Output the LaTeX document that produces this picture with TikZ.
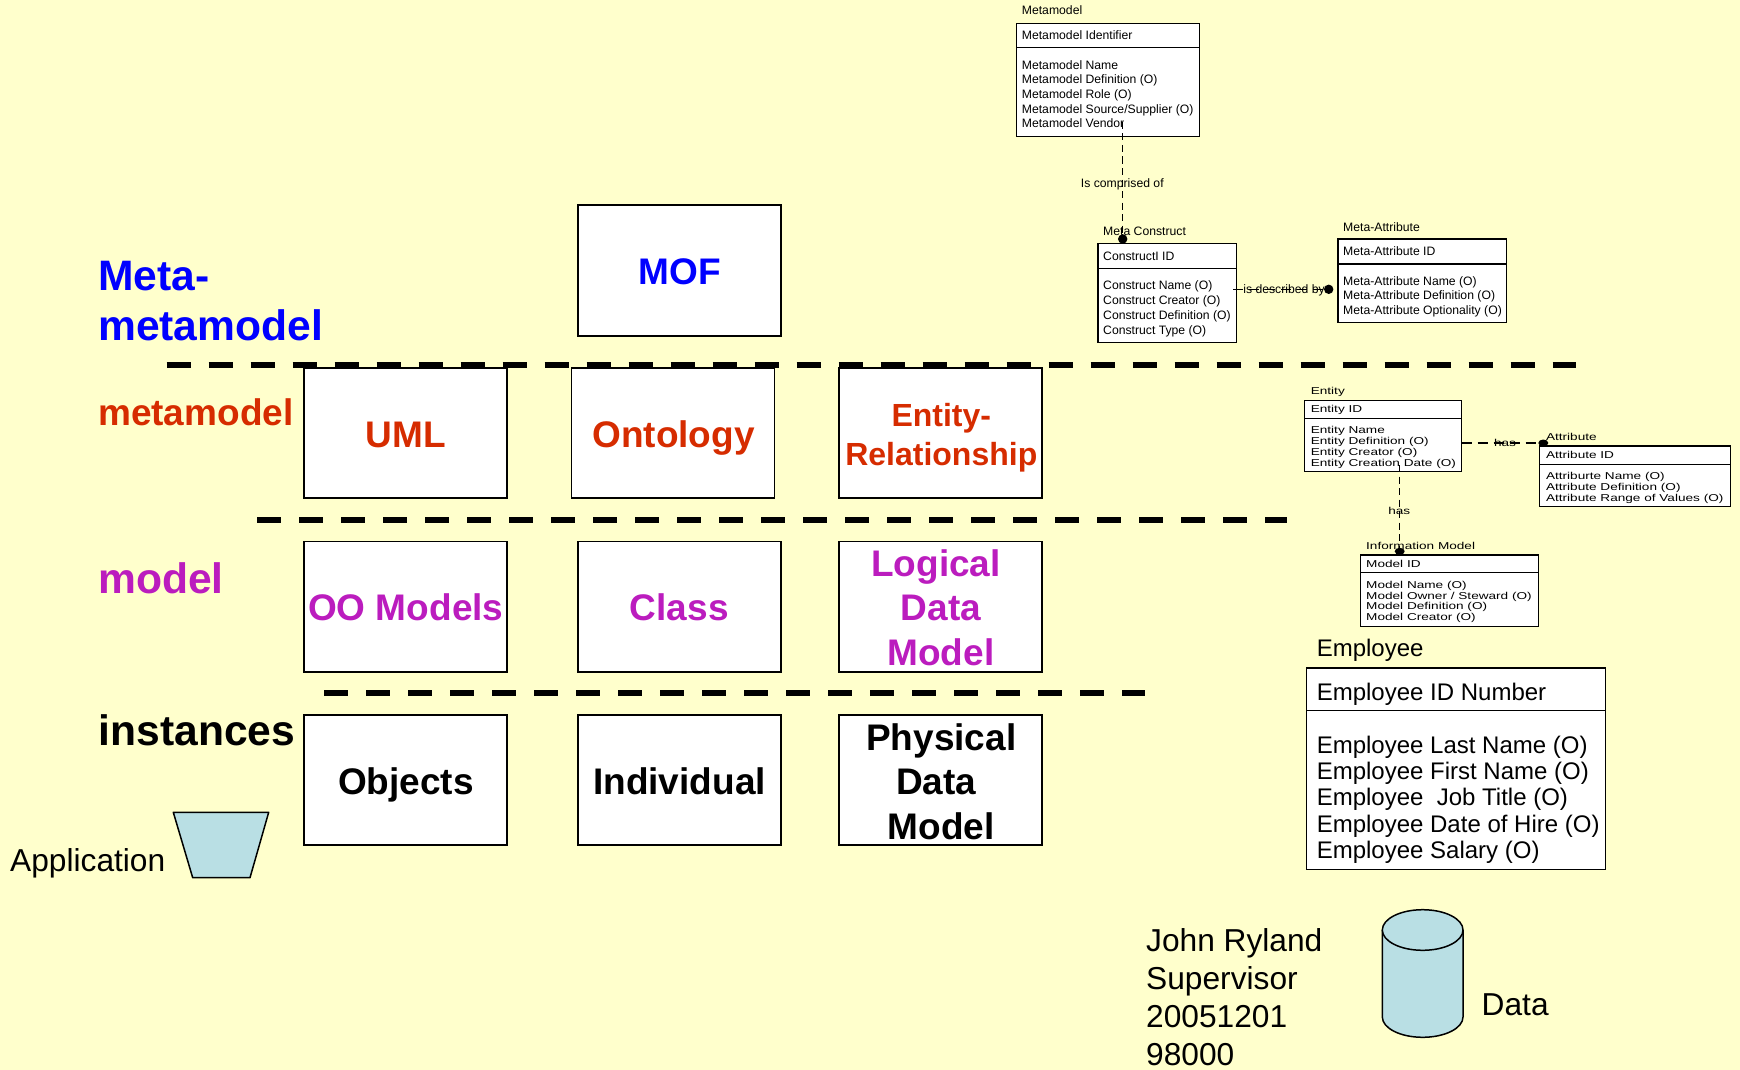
\documentclass[tikz,border=0pt]{standalone}
\usepackage{fontspec}
\setmainfont{Liberation Sans}
\newfontfamily\widesans[FakeStretch=1.36]{Liberation Sans}
\usetikzlibrary{shapes.geometric}
\definecolor{bgyellow}{HTML}{FFFFCC}
\definecolor{shapeblue}{HTML}{B9DFE4}
\definecolor{metared}{HTML}{D62C00}
\definecolor{metamag}{HTML}{BB1CBE}
\newcommand{\fs}[2]{\fontsize{#1}{#2}\selectfont}
\tikzset{
  x=1pt,y=-1pt,
  level/.style={line width=6pt,dash pattern=on 24pt off 18pt},
  bigbox/.style={draw=black,fill=white,line width=1.9pt,outer sep=0pt,minimum width=203pt,minimum height=130.4pt,inner sep=0pt},
  bigtext/.style={anchor=base,inner sep=0pt,font=\bfseries\fs{37}{44.5},align=center},
  lvltext/.style={anchor=base west,inner sep=0pt,font=\bfseries\fs{42.6}{50},align=left},
  plain/.style={anchor=base west,inner sep=0pt,align=left},
  erbox/.style={draw=black,fill=white,line width=1.1pt,outer sep=0pt,anchor=north west,inner sep=0pt},
  meta/.style={font=\fs{12.2}{14.7}},
  stretched/.style={font=\widesans\fs{10}{11}},
  emp/.style={font=\fs{24}{26.3}},
  big/.style={font=\fs{31.7}{38}},
  erlink/.style={line width=1.2pt,dash pattern=on 7pt off 4.5pt},
  erlinkh/.style={line width=1.2pt,dash pattern=on 10pt off 6pt},
  dot/.style={circle,fill=black,inner sep=0pt,minimum size=9.4pt},
  wdot/.style={ellipse,fill=black,inner sep=0pt,minimum width=10pt,minimum height=7pt},
  blueshape/.style={draw=black,fill=shapeblue,line width=1.5pt,line join=round},
}
\begin{document}
\begin{tikzpicture}
\useasboundingbox (0,0) rectangle (1740,1070);
\fill[bgyellow] (0,0) rectangle (1740,1070);

% level separators
\coordinate (l1a) at (166.5,365); \coordinate (l1b) at (1576,365);
\coordinate (l2a) at (257,520); \coordinate (l2b) at (1287,520);
\coordinate (l3a) at (324,693); \coordinate (l3b) at (1145,693);
\draw[level] (l1a) -- (l1b);
\draw[level] (l2a) -- (l2b);
\draw[level] (l3a) -- (l3b);

% level labels
\node[lvltext,text=blue] (lv0) at (98,340.1) {Meta-\\metamodel};
\node[lvltext,text=metared,font=\bfseries\fs{37}{44}] (lv1) at (98,425.5) {metamodel};
\node[lvltext,text=metamag] (lv2) at (98,593) {model};
\node[lvltext,text=black] (lv3) at (98.5,745) {instances};

% big boxes
\node[bigbox] (mof) at (679.3,270.5) {};
\node[bigbox] (uml) at (405.5,433) {};
\node[bigbox] (ont) at (673,433) {};
\node[bigbox] (er) at (940.8,433) {};
\node[bigbox] (oo) at (405.5,606.7) {};
\node[bigbox] (cls) at (679.3,606.7) {};
\node[bigbox] (ldm) at (940.8,606.7) {};
\node[bigbox] (obj) at (405.5,780.2) {};
\node[bigbox] (ind) at (679.3,780.2) {};
\node[bigbox] (pdm) at (940.8,780.2) {};

\node[bigtext,text=blue] (mof-t) at (679.5,284) {MOF};
\node[bigtext,text=metared] (uml-t) at (406,447) {UML};
\node[bigtext,text=metared] (ont-t) at (673.5,447) {Ontology};
\node[bigtext,text=metared,font=\bfseries\fs{32}{39.3}] (er-t) at (941.3,465.4) {Entity-\\Relationship};
\node[bigtext,text=metamag] (oo-t) at (405.8,620) {OO Models};
\node[bigtext,text=metamag] (cls-t) at (679.3,620) {Class};
\node[bigtext,text=metamag] (ldm-t) at (941,665) {Logical\kern10pt\\Data\\Model};
\node[bigtext,text=black] (obj-t) at (406,794) {Objects};
\node[bigtext,text=black] (ind-t) at (679.5,794) {Individual};
\node[bigtext,text=black] (pdm-t) at (941.3,839) {Physical\\Data\kern10pt\\Model};

% application
\draw[blueshape] (173.3,812.3) -- (268.7,812.3) -- (250,877.7) -- (192.7,877.7) -- cycle;
\node[plain,big] (app) at (10,871) {Application};

% Metamodel entity
\node[erbox,minimum width=182.6pt,minimum height=113.2pt] (mm) at (1016.7,23.3) {};
\draw[line width=1.1pt] (1016.7,47.7) -- (1199.3,47.7);
\node[plain,meta] (mm-l) at (1021.7,15) {Metamodel};
\node[plain,meta] (mm-k) at (1021.7,39.3) {Metamodel Identifier};
\node[plain,meta] (mm-a) at (1021.7,128) {Metamodel Name\\Metamodel Definition (O)\\Metamodel Role (O)\\Metamodel Source/Supplier (O)\\Metamodel Vendor};

% Meta Construct entity
\node[erbox,minimum width=138.3pt,minimum height=98.6pt] (mc) at (1098,243.7) {};
\draw[line width=1.1pt] (1098,268.3) -- (1236.3,268.3);
\node[plain,meta] (mc-l) at (1103,235) {Meta Construct};
\node[plain,meta] (mc-k) at (1103,260) {ConstructI ID};
\node[plain,meta] (mc-a) at (1103,334) {Construct Name (O)\\Construct Creator (O)\\Construct Definition (O)\\Construct Type (O)};

% Meta-Attribute entity
\node[erbox,minimum width=168.7pt,minimum height=83.7pt] (ma) at (1338,239) {};
\draw[line width=1.1pt] (1338,264) -- (1506.7,264);
\node[plain,meta] (ma-l) at (1343,231) {Meta-Attribute};
\node[plain,meta] (ma-k) at (1343,255) {Meta-Attribute ID};
\node[plain,meta] (ma-a) at (1343,314.6) {Meta-Attribute Name (O)\\Meta-Attribute Definition (O)\\Meta-Attribute Optionality (O)};

% meta connectors
\node[dot] (d1) at (1122.7,239) {};
\node[dot] (d2) at (1328.7,289.3) {};
\coordinate (c1) at (1122.7,122);
\coordinate (c2) at (1233,289.3);
\draw[erlink] (c1) -- (d1.center);
\draw[erlinkh] (c2) -- (d2.center);
\node[anchor=base,inner sep=0pt,meta] (t1) at (1122.3,187) {Is comprised of};
\node[anchor=base,inner sep=0pt,meta] (t2) at (1284,293.3) {is described by};

% Entity
\node[erbox,minimum width=157pt,minimum height=71pt] (en) at (1304.7,400.3) {};
\draw[line width=1.1pt] (1304.7,418.3) -- (1461.7,418.3);
\node[plain,stretched] (en-l) at (1310.6,394.3) {Entity};
\node[plain,stretched] (en-k) at (1310.6,412.3) {Entity ID};
\node[plain,stretched] (en-a) at (1310.6,466) {Entity Name\\Entity Definition (O)\\Entity Creator (O)\\Entity Creation Date (O)};

% Attribute
\node[erbox,minimum width=191pt,minimum height=60.3pt] (at) at (1539.7,446) {};
\draw[line width=1.1pt] (1539.7,464.3) -- (1730.7,464.3);
\node[plain,stretched] (at-l) at (1545.8,440) {Attribute};
\node[plain,stretched] (at-k) at (1545.8,458.3) {Attribute ID};
\node[plain,stretched] (at-a) at (1545.8,501.3) {Attriburte Name (O)\\Attribute Definition (O)\\Attribute Range of Values (O)};

% Information Model
\node[erbox,minimum width=177.6pt,minimum height=71.3pt] (im) at (1360.7,555) {};
\draw[line width=1.1pt] (1360.7,572.3) -- (1538.3,572.3);
\node[plain,stretched] (im-l) at (1366,549) {Information Model};
\node[plain,stretched] (im-k) at (1366,567.3) {Model ID};
\node[plain,stretched,font=\widesans\fs{10}{10.7}] (im-a) at (1366,620.4) {Model Name (O)\\Model Owner / Steward (O)\\Model Definition (O)\\Model Creator (O)};

% entity connectors
\node[wdot] (d3) at (1543.3,443) {};
\node[wdot] (d4) at (1399.7,551.3) {};
\coordinate (c3) at (1461.7,443);
\coordinate (c4) at (1399.7,465);
\draw[erlinkh] (c3) -- (d3.center);
\draw[erlink] (c4) -- (d4.center);
\node[anchor=base,inner sep=0pt,stretched] (t3) at (1505,446) {has};
\node[anchor=base,inner sep=0pt,stretched] (t4) at (1399.3,514.3) {has};

% Employee
\node[erbox,line width=1.5pt,minimum width=299pt,minimum height=201.7pt] (em) at (1306.3,668) {};
\draw[line width=1.5pt] (1306.3,710.7) -- (1605.3,710.7);
\node[plain,emp] (em-l) at (1316.6,656.5) {Employee};
\node[plain,emp] (em-k) at (1316.6,700) {Employee ID Number};
\node[plain,emp] (em-a) at (1316.6,858.5) {Employee Last Name (O)\\Employee First Name (O)\\Employee\ \ Job Title (O)\\Employee Date of Hire (O)\\Employee Salary (O)};

% record
\node[plain,big] (rec) at (1146,1065) {John Ryland\\Supervisor\\20051201\\98000};

% cylinder
\draw[blueshape] (1382.3,930) -- (1382.3,1017) arc[start angle=180,end angle=360,x radius=40.35pt,y radius=20.3pt] -- (1463,930);
\fill[shapeblue] (1382.3,930) arc[start angle=180,delta angle=-360,x radius=40.35pt,y radius=20.3pt];
\draw[blueshape] (1422.65,930) ellipse [x radius=40.35pt,y radius=20.3pt];
\node[plain,big] (data) at (1481.5,1015) {Data};
\end{tikzpicture}
\end{document}
